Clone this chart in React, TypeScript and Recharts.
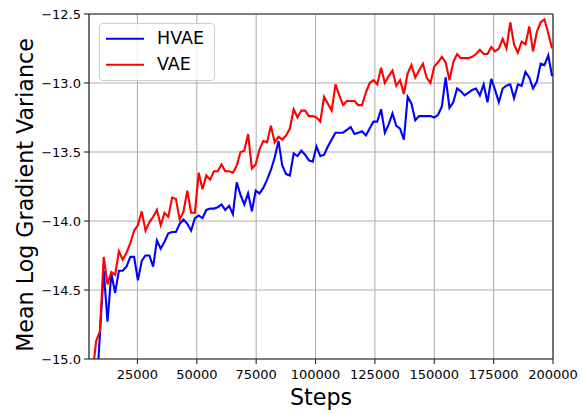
import React from 'react';
import { LineChart, Line, XAxis, YAxis, CartesianGrid, Legend, ReferenceLine, Label } from 'recharts';

const steps = [
  6000, 7600, 9200, 10800, 12400, 14000, 15600, 17200, 18800, 20400,
  22000, 23600, 25200, 26800, 28400, 30000, 31600, 33200, 34800, 36400,
  38000, 39600, 41200, 42800, 44400, 46000, 47600, 49200, 50800, 52400,
  54000, 55600, 57200, 58800, 60400, 62000, 63600, 65200, 66800, 68400,
  70000, 71600, 73200, 74800, 76400, 78000, 79600, 81200, 82800, 84400,
  86000, 87600, 89200, 90800, 92400, 94000, 95600, 97200, 98800, 100400,
  102000, 103600, 105200, 106800, 108400, 110000, 111600, 113200, 114800, 116400,
  118000, 119600, 121200, 122800, 124400, 126000, 127600, 129200, 130800, 132400,
  134000, 135600, 137200, 138800, 140400, 142000, 143600, 145200, 146800, 148400,
  150000, 151600, 153200, 154800, 156400, 158000, 159600, 161200, 162800, 164400,
  166000, 167600, 169200, 170800, 172400, 174000, 175600, 177200, 178800, 180400,
  182000, 183600, 185200, 186800, 188400, 190000, 191600, 193200, 194800, 196400,
  198000, 199600,
];

const hvae = [
  -15.44, -15.29, -14.82, -14.36, -14.73, -14.38, -14.52, -14.36, -14.36, -14.33,
  -14.26, -14.26, -14.43, -14.29, -14.25, -14.25, -14.33, -14.14, -14.20, -14.15,
  -14.09, -14.08, -14.08, -14.02, -13.99, -14.02, -14.07, -13.98, -13.96, -13.98,
  -13.92, -13.91, -13.91, -13.90, -13.88, -13.92, -13.89, -13.95, -13.72, -13.81,
  -13.88, -13.80, -13.93, -13.78, -13.80, -13.76, -13.70, -13.63, -13.54, -13.42,
  -13.60, -13.66, -13.67, -13.51, -13.53, -13.49, -13.52, -13.56, -13.57, -13.46,
  -13.53, -13.52, -13.46, -13.41, -13.36, -13.36, -13.36, -13.34, -13.32, -13.37,
  -13.36, -13.35, -13.38, -13.33, -13.28, -13.28, -13.19, -13.36, -13.30, -13.22,
  -13.31, -13.33, -13.41, -13.10, -13.15, -13.27, -13.24, -13.24, -13.24, -13.24,
  -13.25, -13.23, -13.17, -12.96, -13.18, -13.14, -13.04, -13.06, -13.09, -13.07,
  -13.05, -13.04, -13.09, -13.01, -13.14, -12.97, -13.05, -13.14, -13.04, -13.02,
  -13.01, -13.11, -13.01, -13.02, -12.92, -12.96, -13.04, -12.99, -12.86, -12.87,
  -12.80, -12.95,
];

const vae = [
  -15.12, -14.87, -14.80, -14.26, -14.46, -14.37, -14.39, -14.22, -14.28, -14.23,
  -14.16, -14.07, -14.03, -13.93, -14.07, -14.01, -13.97, -13.92, -14.03, -13.94,
  -13.97, -13.83, -13.84, -13.99, -13.93, -13.78, -13.94, -13.94, -13.65, -13.77,
  -13.67, -13.70, -13.64, -13.64, -13.59, -13.64, -13.64, -13.65, -13.60, -13.50,
  -13.49, -13.37, -13.62, -13.59, -13.48, -13.42, -13.43, -13.31, -13.43, -13.39,
  -13.41, -13.38, -13.33, -13.19, -13.25, -13.20, -13.20, -13.24, -13.24, -13.25,
  -13.28, -13.10, -13.15, -13.20, -13.01, -13.09, -13.16, -13.13, -13.13, -13.13,
  -13.16, -13.16, -13.07, -13.00, -12.98, -13.01, -12.89, -13.00, -12.95, -12.91,
  -13.02, -12.98, -13.08, -12.93, -12.87, -12.96, -12.91, -12.86, -12.96, -13.00,
  -12.88, -12.85, -12.81, -12.85, -12.98, -12.85, -12.79, -12.82, -12.82, -12.82,
  -12.81, -12.79, -12.76, -12.79, -12.79, -12.74, -12.77, -12.75, -12.68, -12.75,
  -12.56, -12.72, -12.78, -12.70, -12.72, -12.59, -12.77, -12.63, -12.56, -12.54,
  -12.64, -12.75,
];

const xTicks = [25000, 50000, 75000, 100000, 125000, 150000, 175000, 200000];
const yTicks = [-15.0, -14.5, -14.0, -13.5, -13.0, -12.5];
const xDomain = [4600, 200000];
const yDomain = [-15.0, -12.5];
const seriesNames = ['HVAE', 'VAE'];
const seriesColors = ['#0000ff', '#ff0000'];
const xLabel = 'Steps';
const yLabel = 'Mean Log Gradient Variance';

const data = steps.map((s, i) => ({ step: s, HVAE: hvae[i], VAE: vae[i] }));

const FONT = '"DejaVu Sans", Verdana, sans-serif';
const SPINE = '#262626';

const fmtY = (v: number) => (v < 0 ? '\u2212' : '') + Math.abs(v).toFixed(1);

function LegendContent(props: any) {
  const payload = props.payload || [];
  return (
    <div
      style={{
        position: 'relative',
        width: 116,
        height: 58,
        boxSizing: 'border-box',
        border: '1px solid #cccccc',
        borderRadius: 4,
        background: 'rgba(255,255,255,0.8)',
        fontFamily: FONT,
        fontSize: 17.5,
        color: '#000',
      }}
    >
      {payload.map((p: any, i: number) => (
        <div key={p.value} style={{ position: 'absolute', left: 0, top: 4 + i * 25.6, height: 22, width: 116 }}>
          <svg width={50} height={22} style={{ position: 'absolute', left: 0, top: 0 }}>
            <line x1={6} x2={44} y1={10.7} y2={10.7} stroke={p.color} strokeWidth={2.1} />
          </svg>
          <span style={{ position: 'absolute', left: 57, top: -1, lineHeight: '22px', whiteSpace: 'nowrap' }}>{p.value}</span>
        </div>
      ))}
    </div>
  );
}

export default function App() {
  return (
    <div style={{ position: 'absolute', left: 0, top: 0, width: 582, height: 413, background: '#fff' }}>
      <LineChart width={582} height={413} data={data} margin={{ top: 14, right: 29, bottom: 0, left: 0 }}>
        <CartesianGrid stroke="#b0b0b0" strokeWidth={1.1} strokeDasharray="" />
        <XAxis
          dataKey="step"
          type="number"
          domain={xDomain}
          ticks={xTicks}
          allowDataOverflow
          height={54}
          tickSize={5}
          tickMargin={6}
          stroke={SPINE}
          strokeWidth={1.1}
          tick={{ fill: '#000', fontSize: 13, fontFamily: FONT }}
          interval={0}
        >
          <Label
            content={() => (
              <text x={321} y={405} textAnchor="middle" fontFamily={FONT} fontSize={22.2} fill="#000">
                {xLabel}
              </text>
            )}
          />
        </XAxis>
        <YAxis
          type="number"
          domain={yDomain}
          ticks={yTicks}
          allowDataOverflow
          width={89}
          tickSize={5}
          tickMargin={3}
          stroke={SPINE}
          strokeWidth={1.1}
          tickFormatter={fmtY}
          tick={{ fill: '#000', fontSize: 13, fontFamily: FONT }}
          interval={0}
        >
          <Label
            content={() => (
              <text
                x={33}
                y={195}
                transform="rotate(-90 33 195)"
                textAnchor="middle"
                fontFamily={FONT}
                fontSize={22.2}
                fill="#000"
              >
                {yLabel}
              </text>
            )}
          />
        </YAxis>
        <ReferenceLine y={yDomain[1]} stroke={SPINE} strokeWidth={1.1} />
        <ReferenceLine x={xDomain[1]} stroke={SPINE} strokeWidth={1.1} />
        <Line
          type="linear"
          dataKey="HVAE"
          name={seriesNames[0]}
          stroke={seriesColors[0]}
          strokeWidth={2.1}
          dot={false}
          activeDot={false}
          isAnimationActive={false}
        />
        <Line
          type="linear"
          dataKey="VAE"
          name={seriesNames[1]}
          stroke={seriesColors[1]}
          strokeWidth={2.1}
          dot={false}
          activeDot={false}
          isAnimationActive={false}
        />
        <Legend
          layout="vertical"
          align="center"
          verticalAlign="middle"
          content={LegendContent}
          wrapperStyle={{ left: 99, top: 23, width: 116, height: 58 }}
        />
      </LineChart>
    </div>
  );
}
